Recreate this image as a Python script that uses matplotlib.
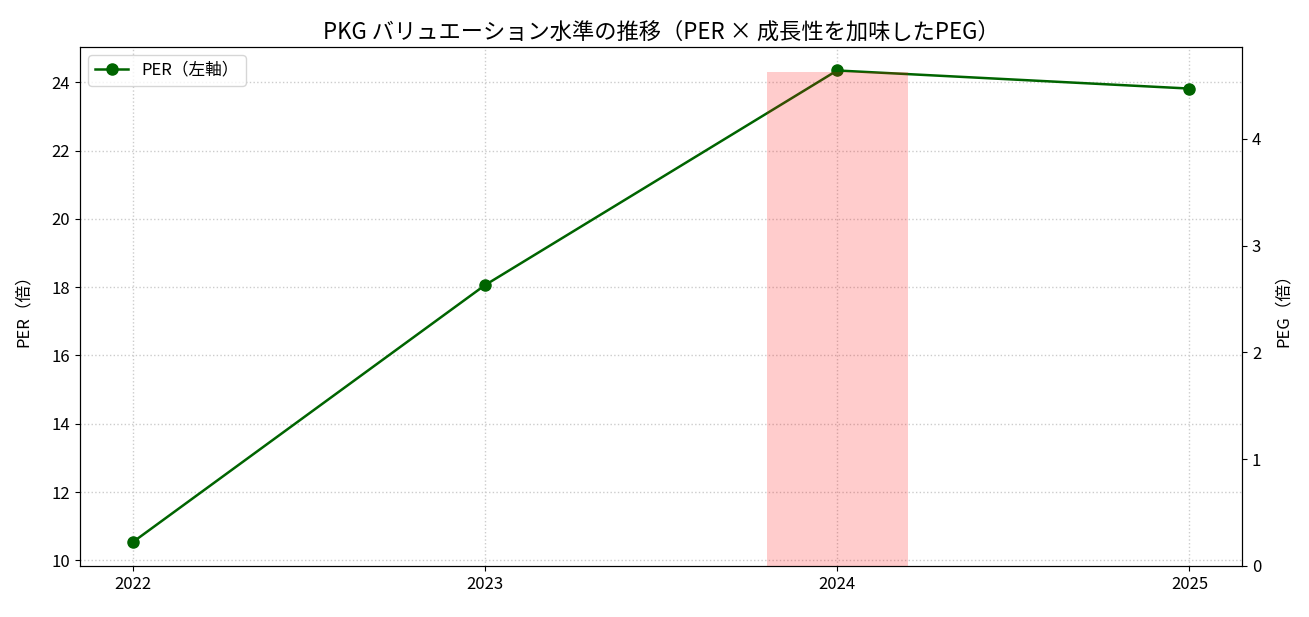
import numpy as np
import matplotlib
matplotlib.use("Agg")
import matplotlib.pyplot as plt

plt.rcParams['font.family'] = ['Noto Sans CJK JP', 'DejaVu Sans']

years = [2022, 2023, 2024, 2025]
per = [10.53, 18.06, 24.35, 23.82]
peg = [np.nan, np.nan, 4.63, np.nan]

fig, ax1 = plt.subplots(figsize=(13.09, 6.17), dpi=100)
ax1.plot(years, per, color='darkgreen', marker='o', linewidth=1.8, markersize=8, label='PER（左軸）')
ax1.set_ylabel('PER（倍）', fontsize=12, labelpad=14)
ax1.set_xticks(years)
ax1.set_xticklabels([str(y) for y in years])
ax1.tick_params(labelsize=12)
ax1.grid(True, linestyle=':', color='#cccccc', linewidth=1)

ax2 = ax1.twinx()
ax2.bar(years, peg, width=0.4, color='red', alpha=0.2)
ax2.set_ylabel('PEG（倍）', fontsize=12, labelpad=10)
ax2.tick_params(labelsize=12)

ax1.legend(loc='upper left', fontsize=12)
ax1.set_title('PKG バリュエーション水準の推移（PER × 成長性を加味したPEG）', fontsize=16)

fig.subplots_adjust(left=0.061, right=0.949, top=0.924, bottom=0.083)
fig.savefig('out.png', dpi=100)
